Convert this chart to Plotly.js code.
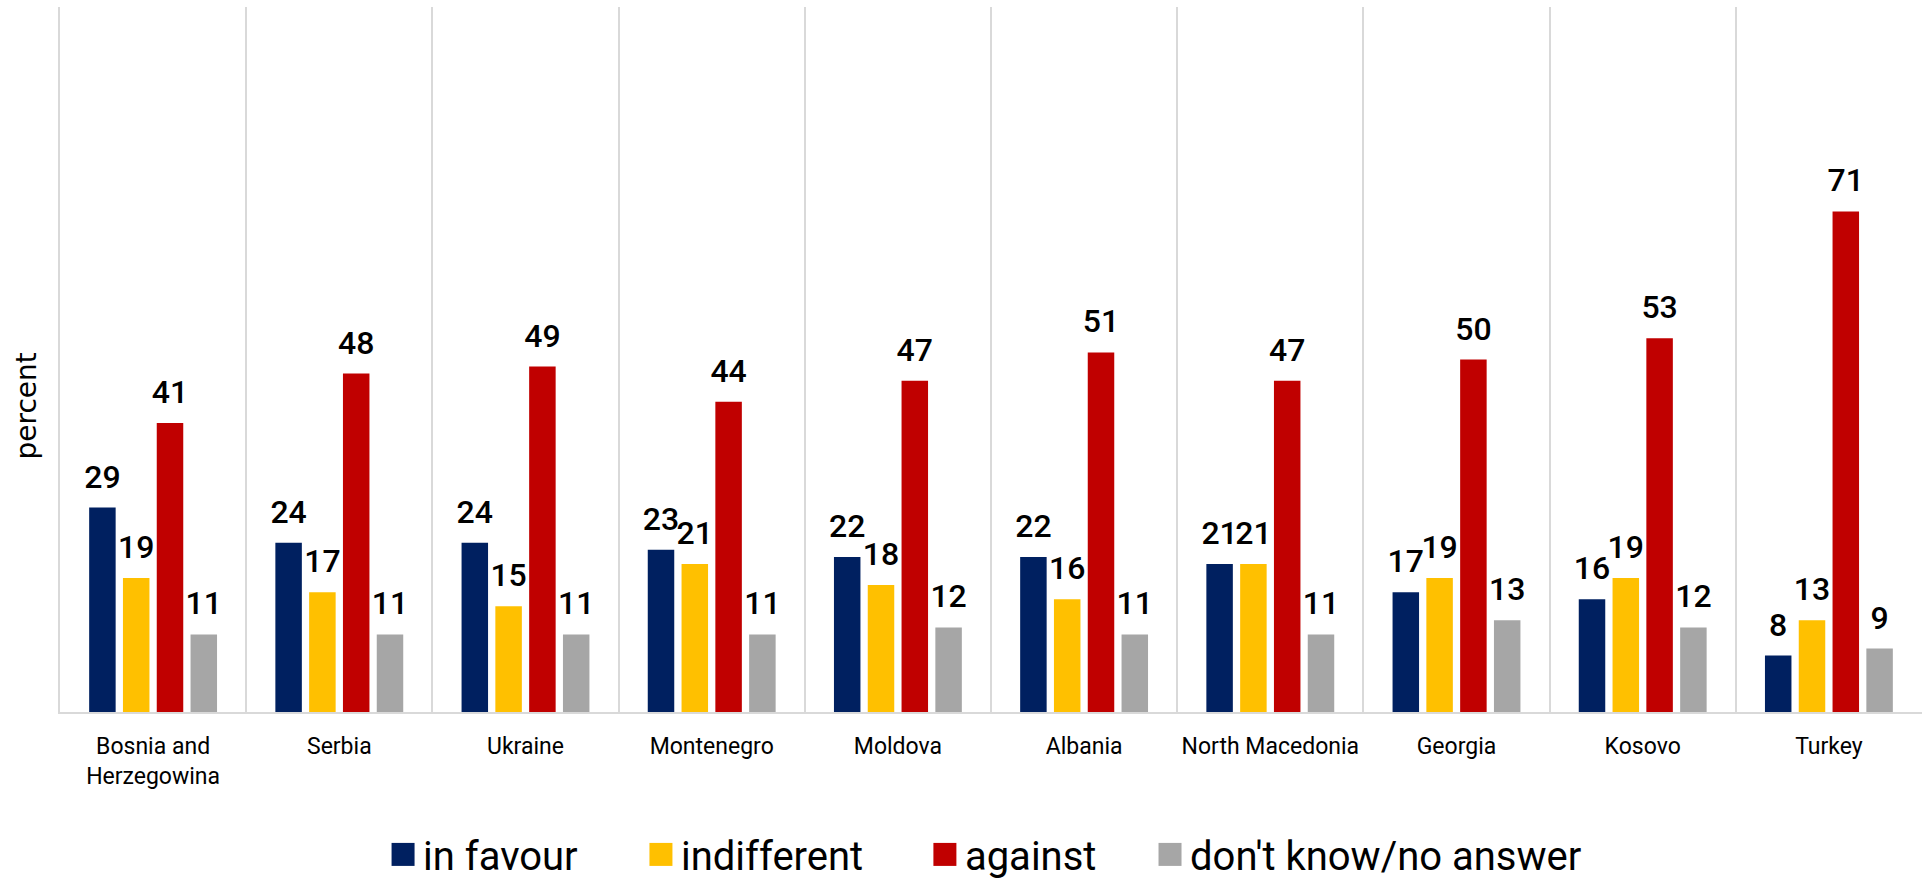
<!DOCTYPE html>
<html>
<head>
<meta charset="utf-8">
<script src="https://cdn.plot.ly/plotly-3.0.1.min.js"></script>
<style>
  html, body { margin: 0; padding: 0; background: #fff; }
  #chart { width: 1928px; height: 883px; }
</style>
</head>
<body>
<div id="chart"></div>
<script>
const categories = ['Bosnia and<br>Herzegowina', 'Serbia', 'Ukraine', 'Montenegro', 'Moldova', 'Albania', 'North Macedonia', 'Georgia', 'Kosovo', 'Turkey'];
const seriesNames = ['in favour', 'indifferent', 'against', "don't know/no answer"];
const inFavour    = [29, 24, 24, 23, 22, 22, 21, 17, 16, 8];
const indifferent = [19, 17, 15, 21, 18, 16, 21, 19, 19, 13];
const against     = [41, 48, 49, 44, 47, 51, 47, 50, 53, 71];
const dontKnow    = [11, 11, 11, 11, 12, 11, 11, 13, 12, 9];
const yAxisTitle = 'percent';

const seriesValues = [inFavour, indifferent, against, dontKnow];
const colors = ['#002060', '#FFC000', '#C00000', '#A6A6A6'];
const legendIds = ['legend', 'legend2', 'legend3', 'legend4'];
const legendX = [0.1735, 0.3120, 0.4645, 0.5854];

const traces = seriesValues.map((vals, i) => ({
  type: 'bar',
  name: seriesNames[i],
  x: categories,
  y: vals,
  marker: { color: colors[i], line: { width: 0 } },
  text: vals.map(String),
  textposition: 'outside',
  constraintext: 'none',
  cliponaxis: false,
  textfont: { family: 'Roboto, sans-serif', size: 32, color: '#000', weight: 500 },
  hoverinfo: 'x+y+name',
  legend: legendIds[i]
}));

const legendBase = {
  orientation: 'h',
  yanchor: 'middle',
  xanchor: 'left',
  y: -0.2020,
  bgcolor: 'rgba(0,0,0,0)',
  borderwidth: 0,
  font: { family: 'Roboto, sans-serif', size: 40, color: '#000' }
};

const layout = {
  width: 1928,
  height: 883,
  margin: { l: 60, r: 6, t: 7, b: 171, autoexpand: false },
  paper_bgcolor: '#fff',
  plot_bgcolor: '#fff',
  barmode: 'group',
  bargap: 0.274,
  bargroupgap: 0.216,
  showlegend: true,
  xaxis: {
    type: 'category',
    tickson: 'boundaries',
    showgrid: true,
    gridcolor: '#d9d9d9',
    gridwidth: 2,
    showline: true,
    linecolor: '#d9d9d9',
    linewidth: 2,
    ticks: '',
    tickangle: 0,
    ticklabelstandoff: 12,
    automargin: false,
    tickfont: { family: 'Roboto, sans-serif', size: 23, color: '#000' },
    fixedrange: true
  },
  yaxis: {
    range: [0, 100],
    showgrid: false,
    zeroline: false,
    showticklabels: false,
    showline: true,
    linecolor: '#d9d9d9',
    linewidth: 2,
    ticks: '',
    automargin: false,
    fixedrange: true
  },
  annotations: [{
    text: yAxisTitle,
    xref: 'paper', yref: 'paper',
    x: -0.0180, y: 0.434,
    xanchor: 'center', yanchor: 'middle',
    textangle: -90,
    showarrow: false,
    font: { family: 'DejaVu Sans, sans-serif', size: 28, color: '#000' }
  }]
};
legendIds.forEach((id, i) => {
  layout[id] = Object.assign({}, legendBase, { x: legendX[i] });
});

Plotly.newPlot('chart', traces, layout, { displayModeBar: false, responsive: false }).then(gd => {
  gd.querySelectorAll('.legendpoints path').forEach(p => {
    p.setAttribute('d', 'M11.5,11.5H-11.5V-11.5H11.5Z');
  });
  gd.querySelectorAll('text.bartext').forEach(t => {
    const tr = t.getAttribute('transform') || '';
    t.setAttribute('transform', 'translate(0,-9) ' + tr);
  });
});
</script>
</body>
</html>
